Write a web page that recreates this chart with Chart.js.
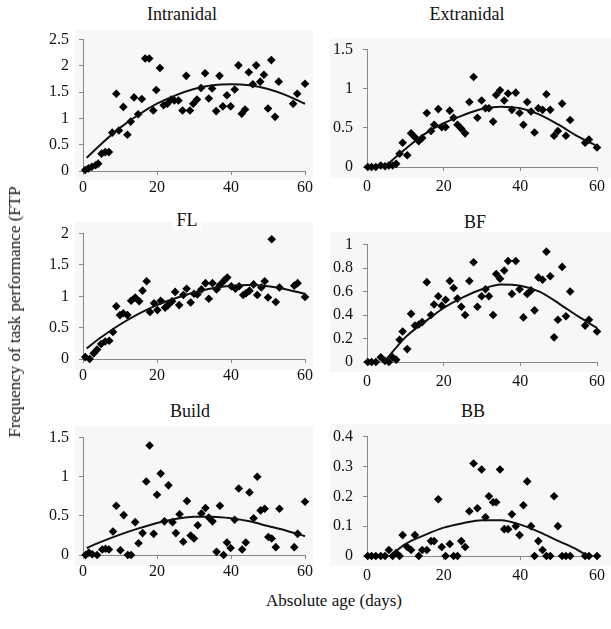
<!DOCTYPE html>
<html>
<head>
<meta charset="utf-8">
<script src="https://cdn.jsdelivr.net/npm/chart.js@4/dist/chart.umd.min.js"></script>
<style>
  html, body { margin:0; padding:0; background:#fff; width:611px; height:629px; overflow:hidden; }
  body { position:relative; font-family:"Liberation Serif","Times New Roman",serif; color:#111; }
  canvas { position:absolute; }
  .bg { position:absolute; background:#f7f7f7; }
  .ttl { position:absolute; font-size:18px; background:#fff; padding:0 4px; transform:translate(-50%,-50%); white-space:nowrap; line-height:20px; }
  .axt { position:absolute; font-size:17px; white-space:nowrap; transform:translate(-50%,-50%); }
</style>
</head>
<body>
<div class="bg" style="left:75px;top:30px;width:238px;height:150px"></div>
<div class="bg" style="left:330px;top:38px;width:281px;height:140px"></div>
<div class="bg" style="left:75px;top:222px;width:238px;height:148px"></div>
<div class="bg" style="left:330px;top:232px;width:281px;height:140px"></div>
<div class="bg" style="left:75px;top:426px;width:238px;height:140px"></div>
<div class="bg" style="left:330px;top:424px;width:281px;height:142px"></div>

<canvas id="c1"></canvas><canvas id="c2"></canvas>
<canvas id="c3"></canvas><canvas id="c4"></canvas>
<canvas id="c5"></canvas><canvas id="c6"></canvas>

<div class="ttl" style="left:182px;top:14px">Intranidal</div>
<div class="ttl" style="left:467px;top:14px">Extranidal</div>
<div class="ttl" style="left:187px;top:220px">FL</div>
<div class="ttl" style="left:475px;top:222px">BF</div>
<div class="ttl" style="left:190px;top:411px">Build</div>
<div class="ttl" style="left:473px;top:411px">BB</div>
<div class="axt" style="left:334px;top:601px">Absolute age (days)</div>
<div class="axt" style="left:15px;top:312px;transform:translate(-50%,-50%) rotate(-90deg)">Frequency of task performance (FTP</div>

<script>
// ---- data ----
const intranidalDays = [0.6,1.5,2.4,3.4,4.1,5,6,7,7.9,9,9.7,10.9,12,12.9,13.8,14.9,15.9,16.8,17.9,19,19.8,20.8,21.8,22.8,23.8,24.7,25.8,26.9,27.9,28.9,29.8,30.8,31.9,33,34,34.9,36,36.9,37.8,38.9,39.9,41,42,42.9,43.8,44.8,45.9,46.8,47.9,48.9,50,50.9,51.9,52.9,56.8,57.9,60];
const intranidalFTP = [0.02,0.05,0.08,0.11,0.14,0.33,0.36,0.36,0.73,1.47,0.77,1.22,0.69,0.94,1.40,1.08,1.37,2.14,2.14,1.15,1.54,1.96,1.25,1.28,1.36,1.34,1.34,1.15,1.81,1.15,1.28,1.36,1.58,1.86,1.38,1.57,1.14,1.81,1.23,1.44,1.23,1.55,2.01,1.09,1.17,1.88,1.65,2.01,1.70,1.83,1.19,2.11,1.03,1.70,1.28,1.47,1.66];

const rightDays = [0.2,1.2,2.3,3.6,4.7,5.7,6.7,7.6,8.5,9.3,10.5,11.5,12.5,13.5,14.4,15.6,16.7,17.5,18.6,19.5,20.5,21.6,22.6,23.6,24.6,25.6,26.7,27.8,28.8,29.9,30.9,31.8,32.9,33.7,34.7,35.8,36.8,37.8,38.8,39.8,40.8,41.8,42.8,43.7,44.7,45.8,46.8,47.8,48.8,49.8,50.9,51.9,53,56.9,57.9,60];
const extranidalFTP = [0,0,0,0.02,0.01,0.02,0.02,0.04,0.17,0.31,0.15,0.43,0.38,0.33,0.37,0.69,0.46,0.54,0.74,0.51,0.51,0.72,0.63,0.54,0.49,0.43,0.83,1.15,0.63,0.85,0.75,0.75,0.58,0.92,0.98,0.85,0.94,0.73,0.95,0.69,0.54,0.83,0.71,0.44,0.75,0.73,0.93,0.73,0.40,0.46,0.81,0.40,0.60,0.31,0.35,0.25];

const flDays = [0.6,1.8,2.9,3.8,4.9,6,7.1,8.1,9,10,10.9,12,13,14.1,15.2,16.1,17.2,18.1,19.2,20.1,21,22.2,23,24.1,24.9,26,27.1,28,29.1,30,30.9,32,33.1,34,35,36.1,37,38.1,39,40.1,41.2,42.2,43.3,44.1,45,46.1,47.1,48.2,49.1,50,51,52.1,53.1,57.1,58,60];
const flFTP = [0.03,0,0.09,0.15,0.24,0.28,0.29,0.43,0.84,0.70,0.73,0.70,0.93,0.98,0.92,1.09,1.24,0.75,0.89,0.78,0.93,0.82,0.86,0.92,1.07,0.86,1.02,1.12,0.90,1.04,1.03,1.11,1.21,0.96,1.21,1.11,1.18,1.25,1.30,1.16,1.12,1.16,1.02,1.05,1.09,1.19,1.02,1.14,1.24,0.98,1.91,0.91,1.14,1.17,1.21,0.99];

const bfFTP = [0,0,0,0.04,0.01,0,0.04,0.02,0.19,0.26,0.11,0.41,0.31,0.32,0.34,0.68,0.40,0.49,0.56,0.48,0.53,0.69,0.63,0.54,0.47,0.40,0.69,0.85,0.47,0.56,0.62,0.56,0.40,0.75,0.71,0.78,0.86,0.58,0.86,0.62,0.38,0.58,0.61,0.44,0.72,0.70,0.94,0.73,0.21,0.36,0.81,0.39,0.60,0.31,0.36,0.26];

const buildDays = [0.7,1.6,2.5,3.8,5.2,6.1,7,8.1,9,10.1,11,12.1,13,14.1,15,16.1,17.1,18,19.1,20,21,22,23.1,24.2,25.1,26.1,27.1,28.1,29.1,30,31,32,33.1,34,35,36.1,37,38,38.9,39.9,41,42.1,43,44,45,46.1,47.1,48,49.1,50.1,51,52.1,53.1,57.1,58,60];
const buildFTP = [0,0.03,0.01,0,0.07,0.08,0.07,0.30,0.63,0.06,0.51,0,0,0.42,0.15,0.28,0.94,1.40,0.27,0.77,1.04,0.43,0.89,0.42,0.28,0.52,0.17,0.69,0.25,0.21,0.38,0.53,0.60,0.48,0.43,0.04,0.63,0,0.16,0.09,0.45,0.85,0.07,0.16,0.80,0.47,1.00,0.57,0.59,0.23,0.21,0.10,0.59,0.10,0.27,0.68];

const bbFTP = [0,0,0,0,0,0.02,0,0.01,0,0.07,0.03,0.02,0.07,0,0.02,0.02,0.05,0.05,0.19,0.03,0,0.04,0,0,0.05,0.03,0.15,0.31,0.16,0.29,0.13,0.20,0.18,0.18,0.29,0.09,0.09,0.14,0.10,0.07,0.17,0.25,0.10,0,0.05,0.02,0,0,0.20,0.10,0,0,0,0,0,0];

// trend lines
const leftTrendDays = [1,5,10,15,20,25,30,35,40,45,50,55,60];
const intranidalTrend = [0.25,0.52,0.82,1.07,1.28,1.44,1.56,1.63,1.65,1.63,1.56,1.44,1.28];
const flTrend = [0.17,0.35,0.55,0.72,0.86,0.97,1.06,1.13,1.17,1.18,1.16,1.11,1.04];
const buildTrend = [0.09,0.17,0.26,0.34,0.41,0.46,0.49,0.49,0.47,0.43,0.37,0.31,0.24];
const rightTrendDays = [4.5,10,15,20,25,30,35,40,45,50,55,60];
const extranidalTrend = [0,0.23,0.42,0.56,0.66,0.74,0.77,0.75,0.67,0.54,0.39,0.27];
const bfTrend = [0,0.21,0.34,0.46,0.55,0.62,0.66,0.65,0.60,0.50,0.39,0.29];
const bbTrendDays = [6,10,15,20,25,30,35,40,45,50,55,57.5];
const bbTrend = [0,0.04,0.07,0.095,0.11,0.12,0.12,0.105,0.08,0.05,0.02,0];

const xTicks = [0,20,40,60];

// ---- drawing ----
Chart.defaults.font.family = 'Liberation Serif';
const FONT = {family:'Liberation Serif', size:16};
function pts(xs, ys){ return xs.map((x,i)=>({x:x, y:ys[i]})); }
function fmt(v){ return String(Math.round(v * 100) / 100); }

function panel(id, col, top, bottom, xs, ys, tx, ty, ymax, ystep){
  const cv = document.getElementById(id);
  const T = top - 17;
  const H = bottom + 30 - T;
  const L = col === 0 ? 0 : 320;
  const W = col === 0 ? 320 : 291;
  const yw = col === 0 ? 83 : 47;
  const pr = col === 0 ? 15 : 6;
  cv.width = W; cv.height = H;
  cv.style.left = L + 'px'; cv.style.top = T + 'px';
  cv.style.width = W + 'px'; cv.style.height = H + 'px';
  new Chart(cv, {
    type:'scatter',
    data:{datasets:[
      {data:pts(xs, ys), pointStyle:'rectRot', pointRadius:4.3, backgroundColor:'#000', borderColor:'#000', borderWidth:0, clip:false, order:2},
      {data:pts(tx, ty), showLine:true, pointRadius:0, borderColor:'#111', borderWidth:2, cubicInterpolationMode:'monotone', fill:false, clip:false, order:1}
    ]},
    options:{
      responsive:false, animation:false, events:[],
      devicePixelRatio:1,
      layout:{padding:{top:17, right:pr, left:0, bottom:0}, autoPadding:false},
      plugins:{legend:{display:false}, tooltip:{enabled:false}},
      scales:{
        x:{type:'linear', min:0, max:60,
           afterBuildTicks:s=>{ s.ticks = xTicks.map(v=>({value:v})); },
           ticks:{font:FONT, color:'#111', padding: col===0 ? 3 : 6, maxRotation:0, autoSkip:false, callback:fmt},
           grid:{drawOnChartArea:false, drawTicks:true, tickLength:4, color:'#888'},
           border:{color:'#888', width:1},
           afterFit:s=>{ s.height = 30; }},
        y:{type:'linear', min:0, max:ymax,
           ticks:{stepSize:ystep, font:FONT, color:'#111', padding:10, callback:fmt},
           grid:{drawOnChartArea:false, drawTicks:true, tickLength:4, color:'#888'},
           border:{color:'#888', width:1},
           afterFit:s=>{ s.width = yw; }}
      }
    }
  });
}

function drawAll(){
  panel('c1', 0, 37, 171, intranidalDays, intranidalFTP, leftTrendDays, intranidalTrend, 2.5, 0.5);
  panel('c2', 1, 47, 167, rightDays, extranidalFTP, rightTrendDays, extranidalTrend, 1.5, 0.5);
  panel('c3', 0, 231, 359, flDays, flFTP, leftTrendDays, flTrend, 2, 0.5);
  panel('c4', 1, 242, 362, rightDays, bfFTP, rightTrendDays, bfTrend, 1, 0.2);
  panel('c5', 0, 435, 555, buildDays, buildFTP, leftTrendDays, buildTrend, 1.5, 0.5);
  panel('c6', 1, 434, 556, rightDays, bbFTP, bbTrendDays, bbTrend, 0.4, 0.1);
}
if (document.fonts && document.fonts.load) {
  document.fonts.load('16px "Liberation Serif"').then(drawAll, drawAll);
} else {
  drawAll();
}
</script>
</body>
</html>
